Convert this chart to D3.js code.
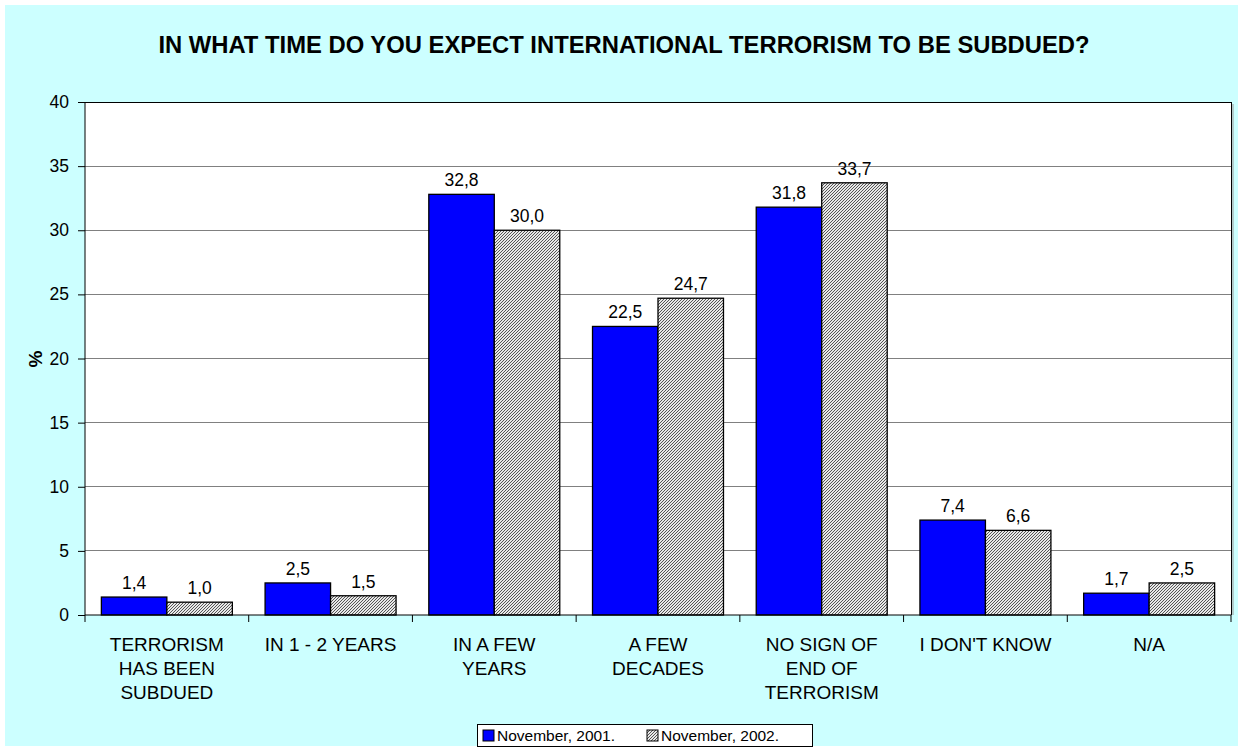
<!DOCTYPE html>
<html><head><meta charset="utf-8">
<script src="https://cdn.jsdelivr.net/npm/d3@7"></script>
<style>body{margin:0;background:#fff}svg{display:block}text{font-family:"Liberation Sans",Arial,sans-serif}</style>
</head><body>
<script>
const categories = [["TERRORISM","HAS BEEN","SUBDUED"],["IN 1 - 2 YEARS"],["IN A FEW","YEARS"],["A FEW","DECADES"],["NO SIGN OF","END OF","TERRORISM"],["I DON'T KNOW"],["N/A"]];
const seriesNames = ["November, 2001.","November, 2002."];
const nov2001 = [1.4,2.5,32.8,22.5,31.8,7.4,1.7];
const nov2002 = [1.0,1.5,30.0,24.7,33.7,6.6,2.5];
const yTicks = [0,5,10,15,20,25,30,35,40];
const title = "IN WHAT TIME DO YOU EXPECT INTERNATIONAL TERRORISM TO BE SUBDUED?";

const W=1243,H=751;
const svg=d3.select("body").append("svg").attr("width",W).attr("height",H);
const defs=svg.append("defs");
const pat=defs.append("pattern").attr("id","hatch").attr("patternUnits","userSpaceOnUse").attr("width",3).attr("height",3);
pat.append("rect").attr("width",3).attr("height",3).attr("fill","#e8e8e8");
[[0,2],[1,1],[2,0]].forEach(([px,py])=>pat.append("rect").attr("x",px).attr("y",py).attr("width",1).attr("height",1).attr("fill","#555").attr("shape-rendering","crispEdges"));

svg.append("rect").attr("x",5).attr("y",5).attr("width",1233).attr("height",741).attr("fill","#CCFFFF");

const m={l:85,r:1231,t:102,b:615};
const x=d3.scaleBand().domain(d3.range(categories.length)).range([m.l,m.r]).paddingInner(0).paddingOuter(0);
const xs=d3.scaleBand().domain([0,1]).range([0,x.bandwidth()]).paddingInner(0).paddingOuter(0.25);
const y=d3.scaleLinear().domain([0,40]).range([m.b,m.t]);

svg.append("rect").attr("x",m.l).attr("y",m.t).attr("width",m.r-m.l).attr("height",m.b-m.t).attr("fill","#fff");
svg.append("g").selectAll("line").data(yTicks.filter(d=>d>0)).join("line")
 .attr("x1",m.l).attr("x2",m.r).attr("y1",d=>y(d)).attr("y2",d=>y(d)).attr("stroke",d=>d===40?"#000":"#808080").attr("stroke-width",1).attr("shape-rendering","crispEdges");
svg.append("line").attr("x1",m.r+0.5).attr("x2",m.r+0.5).attr("y1",m.t).attr("y2",m.b).attr("stroke","#000");
svg.append("line").attr("x1",m.r+2).attr("x2",m.r+2).attr("y1",m.t+2).attr("y2",m.b).attr("stroke","#999");

const series=[nov2001,nov2002];
const fills=["#0000FF","url(#hatch)"];
series.forEach((vals,si)=>{
  const g=svg.append("g");
  g.selectAll("rect").data(vals).join("rect")
   .attr("x",(d,i)=>x(i)+xs(si)).attr("width",xs.bandwidth())
   .attr("y",d=>y(d)).attr("height",d=>y(0)-y(d))
   .attr("fill",fills[si]).attr("stroke","#000").attr("stroke-width",1.3);
  g.selectAll("text").data(vals).join("text")
   .attr("x",(d,i)=>x(i)+xs(si)+xs.bandwidth()/2).attr("y",d=>y(d)-8)
   .attr("text-anchor","middle").attr("font-size",17.5).attr("fill","#000")
   .text(d=>d.toFixed(1).replace(".",","));
});

const yAxis=d3.axisLeft(y).tickValues(yTicks).tickSize(7).tickPadding(9);
const ga=svg.append("g").attr("transform",`translate(${m.l},0)`).call(yAxis);
ga.select(".domain").attr("stroke","#000").attr("d",`M0,${m.t}V${m.b}`);
ga.selectAll("text").attr("font-size",17.5).attr("font-family","Liberation Sans, Arial").attr("fill","#000");

const gx=svg.append("g").attr("transform",`translate(0,${m.b})`);
gx.append("line").attr("x1",m.l).attr("x2",m.r).attr("stroke","#000");
const tickX=d3.range(categories.length+1).map(i=>i<categories.length?x(i):m.r);
gx.selectAll(".tk").data(tickX).join("line").attr("x1",d=>d).attr("x2",d=>d).attr("y1",0).attr("y2",7).attr("stroke","#000");
gx.selectAll(".lbl").data(categories).join("text")
 .attr("text-anchor","middle").attr("font-size",19).attr("fill","#000")
 .each(function(lines,i){
   d3.select(this).selectAll("tspan").data(lines).join("tspan")
    .attr("x",x(i)+x.bandwidth()/2).attr("y",(d,j)=>36+j*24).text(d=>d);
 });

svg.append("text").attr("x",624).attr("y",53).attr("text-anchor","middle").attr("font-size",23.8).attr("font-weight","bold").text(title);
svg.append("text").attr("transform","translate(42,359) rotate(-90)").attr("text-anchor","middle").attr("font-size",19).attr("font-weight","bold").text("%");

const lg=svg.append("g");
lg.append("rect").attr("x",477.5).attr("y",724.5).attr("width",335).attr("height",22).attr("fill","#fff").attr("stroke","#000");
const lx=[483,647];
seriesNames.forEach((n,i)=>{
  lg.append("rect").attr("x",lx[i]).attr("y",730).attr("width",11).attr("height",11).attr("fill",fills[i]).attr("stroke","#000");
  lg.append("text").attr("x",lx[i]+14).attr("y",741).attr("font-size",15.5).text(n);
});
</script>
</body></html>
